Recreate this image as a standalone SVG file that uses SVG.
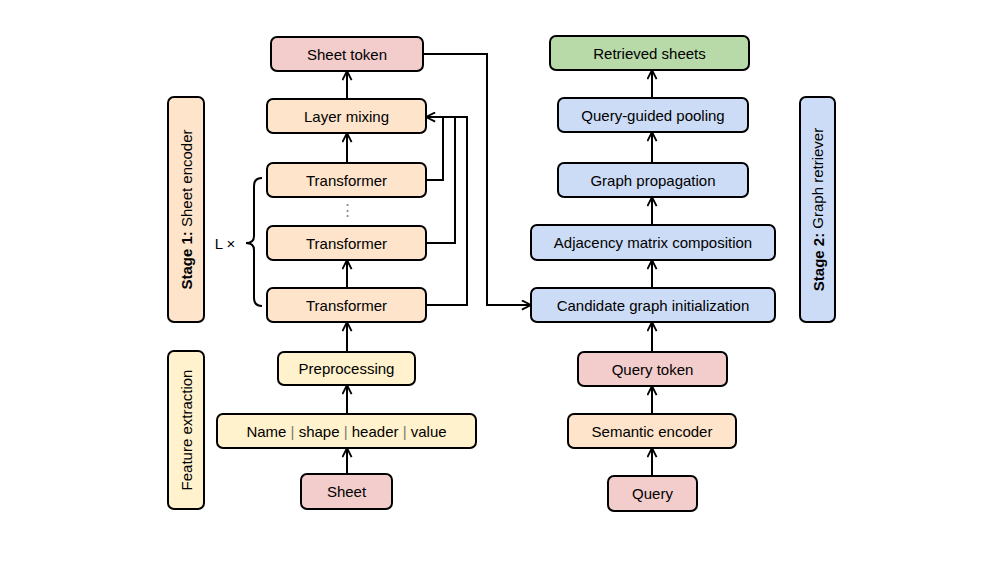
<svg xmlns="http://www.w3.org/2000/svg" width="996" height="561" viewBox="0 0 996 561">
<style>
rect{stroke:#000;stroke-width:2}
text{font-family:"Liberation Sans",Arial,sans-serif;font-size:15px;text-anchor:middle;dominant-baseline:central;fill:#000}
.pk{fill:#f3cccc}.pe{fill:#fde4cb}.ye{fill:#fff2cc}.bl{fill:#cddcf6}.gr{fill:#b8d9a8}
.c{fill:none;stroke:#000;stroke-width:2}
.g{fill:#888}
</style>
<defs><marker id="a" viewBox="0 0 10 10" refX="9" refY="5" markerWidth="7" markerHeight="7" orient="auto" markerUnits="userSpaceOnUse"><path d="M0,0 L10,5 L0,10 L3,5 Z" fill="#000"/></marker>
<marker id="b" viewBox="0 0 12 12" refX="11" refY="6" markerWidth="11" markerHeight="11" orient="auto" markerUnits="userSpaceOnUse"><path d="M1,1 L11,6 L1,11" fill="none" stroke="#000" stroke-width="2"/></marker></defs>
<rect width="996" height="561" fill="#fff" style="stroke:none"/>
<g id="stage1"><rect class="pe" x="168" y="97" width="36" height="225" rx="6"/><text transform="translate(186,209.5) rotate(-90)"><tspan font-weight="bold">Stage 1:</tspan> Sheet encoder</text></g>
<g id="feat"><rect class="ye" x="168" y="351" width="36" height="158" rx="6"/><text transform="translate(186,430) rotate(-90)">Feature extraction</text></g>
<g id="stage2"><rect class="bl" x="800" y="97" width="35" height="225" rx="6"/><text transform="translate(817.5,209.5) rotate(-90)"><tspan font-weight="bold">Stage 2:</tspan> Graph retriever</text></g>
<g id="sheettoken"><rect class="pk" x="271" y="37" width="152" height="34" rx="6"/><text x="347" y="54">Sheet token</text></g>
<g id="layermix"><rect class="pe" x="267" y="99" width="159" height="34" rx="6"/><text x="346.5" y="116">Layer mixing</text></g>
<g id="t1"><rect class="pe" x="267" y="163" width="159" height="34" rx="6"/><text x="346.5" y="180">Transformer</text></g>
<text x="347" y="209" font-size="10" class="g">⋮</text>
<g id="t2"><rect class="pe" x="267" y="226" width="159" height="34" rx="6"/><text x="346.5" y="243">Transformer</text></g>
<g id="t3"><rect class="pe" x="267" y="288" width="159" height="34" rx="6"/><text x="346.5" y="305">Transformer</text></g>
<g id="prep"><rect class="ye" x="278" y="352" width="137" height="33" rx="6"/><text x="346.5" y="368.5">Preprocessing</text></g>
<g id="feats"><rect class="ye" x="217" y="414" width="259" height="34" rx="6"/><text x="346.5" y="431">Name <tspan fill="#777">|</tspan> shape <tspan fill="#777">|</tspan> header <tspan fill="#777">|</tspan> value</text></g>
<g id="sheet"><rect class="pk" x="301" y="474" width="91" height="35" rx="6"/><text x="346.5" y="491.5">Sheet</text></g>
<g id="lx"><text x="225" y="243">L ×</text><path class="c" d="M262,178 Q254,178 254,186 L254,236 Q254,243 246,243 Q254,243 254,250 L254,298 Q254,306 262,306" stroke-width="1.5"/></g>
<g id="retrieved"><rect class="gr" x="550" y="36" width="199" height="34" rx="6"/><text x="649.5" y="53">Retrieved sheets</text></g>
<g id="pool"><rect class="bl" x="558" y="98" width="190" height="34" rx="6"/><text x="653" y="115">Query-guided pooling</text></g>
<g id="prop"><rect class="bl" x="558" y="163" width="190" height="34" rx="6"/><text x="653" y="180">Graph propagation</text></g>
<g id="adj"><rect class="bl" x="531" y="225" width="244" height="35" rx="6"/><text x="653" y="242.5">Adjacency matrix composition</text></g>
<g id="cand"><rect class="bl" x="531" y="288" width="244" height="34" rx="6"/><text x="653" y="305">Candidate graph initialization</text></g>
<g id="qtoken"><rect class="pk" x="578" y="352" width="149" height="34" rx="6"/><text x="652.5" y="369">Query token</text></g>
<g id="sem"><rect class="pe" x="568" y="414" width="168" height="34" rx="6"/><text x="652" y="431">Semantic encoder</text></g>
<g id="query"><rect class="pk" x="608" y="476" width="89" height="35" rx="6"/><text x="652.5" y="493.5">Query</text></g>
<g id="connectors">
<path class="c" marker-end="url(#b)" d="M347,474 V448"/>
<path class="c" marker-end="url(#b)" d="M347,414 V385"/>
<path class="c" marker-end="url(#b)" d="M347,352 V322"/>
<path class="c" marker-end="url(#b)" d="M347,288 V260"/>
<path class="c" marker-end="url(#b)" d="M347,163 V133"/>
<path class="c" marker-end="url(#b)" d="M347,99 V71"/>
<path class="c" d="M426,180 H443 V117"/>
<path class="c" d="M426,243 H455 V117"/>
<path class="c" marker-end="url(#b)" d="M426,305 H467 V117 H426"/>
<path class="c" marker-end="url(#b)" d="M423,54 H487 V305 H531"/>
<path class="c" marker-end="url(#b)" d="M652,476 V448"/>
<path class="c" marker-end="url(#b)" d="M652,414 V386"/>
<path class="c" marker-end="url(#b)" d="M652,352 V322"/>
<path class="c" marker-end="url(#b)" d="M652,288 V260"/>
<path class="c" marker-end="url(#b)" d="M652,225 V197"/>
<path class="c" marker-end="url(#b)" d="M652,163 V132"/>
<path class="c" marker-end="url(#b)" d="M652,98 V70"/>
</g>
</svg>
